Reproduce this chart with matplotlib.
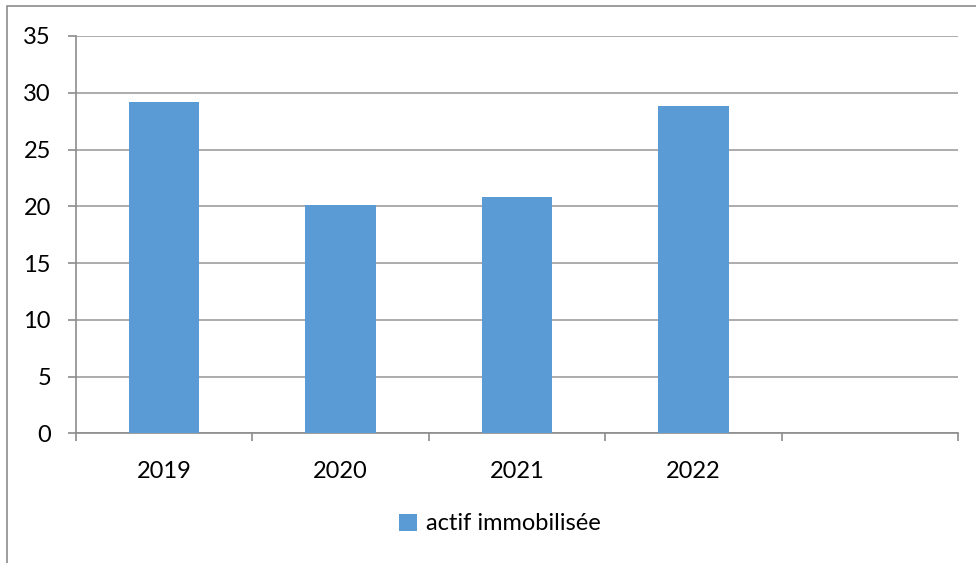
import matplotlib
matplotlib.use("Agg")
from matplotlib import pyplot as plt
from matplotlib.patches import Rectangle
import numpy as np

# data
years = ["2019", "2020", "2021", "2022"]
actif_immobilise = [29.2, 20.1, 20.8, 28.8]
n_slots = 5  # Excel left an empty 5th category
y_ticks = [0, 5, 10, 15, 20, 25, 30, 35]

plt.rcParams['font.family'] = ['Lato', 'DejaVu Sans']

W, H = 976, 563
fig = plt.figure(figsize=(W / 100, H / 100), dpi=100)

# outer chart border (only top/left visible in the crop)
fig.patches.append(Rectangle((7 / W, -0.1), 1.2, (H - 6) / H + 0.1, transform=fig.transFigure,
                             fill=False, edgecolor="#8c8c8c", linewidth=1.2))

left, right, top, bottom = 76, 958, 36, 433.3
ax = fig.add_axes([left / W, (H - bottom) / H, (right - left) / W, (bottom - top) / H])

x = np.arange(len(years))
bar_color = "#5B9BD5"
ax.bar(x, actif_immobilise, width=0.4, color=bar_color, label="actif immobilisée", zorder=3)

ax.set_xlim(-0.5, n_slots - 0.5)
ax.set_ylim(0, 35)

ax.set_yticks(y_ticks)
ax.yaxis.grid(True, color="#a6a6a6", linewidth=1.3, zorder=0)
ax.set_xticks(x)
ax.set_xticklabels(years)
ax.set_xticks(np.arange(-0.5, n_slots), minor=True)

ax.tick_params(axis="x", which="major", length=0, pad=20, labelsize=17)
ax.tick_params(axis="x", which="minor", length=6, width=1.2, color="#8c8c8c", direction="out")
ax.tick_params(axis="y", length=6, width=1.2, color="#8c8c8c", direction="out", pad=12, labelsize=17)

for s in ["top", "right"]:
    ax.spines[s].set_visible(False)
ax.spines["left"].set_color("#8c8c8c")
ax.spines["bottom"].set_color("#8c8c8c")
ax.spines["left"].set_linewidth(1.2)
ax.spines["bottom"].set_linewidth(1.2)

handles, labels = ax.get_legend_handles_labels()
fig.legend(handles, labels, loc="center", bbox_to_anchor=(500 / W, (H - 524) / H),
           frameon=False, fontsize=17, handlelength=0.75, handleheight=0.75, handletextpad=0.4)

fig.savefig("out.png", dpi=100)
